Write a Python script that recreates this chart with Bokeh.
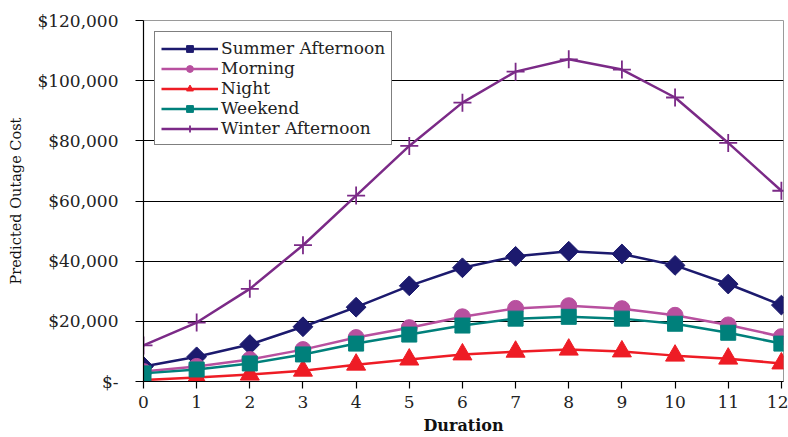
import numpy as np
from bokeh.plotting import figure
from bokeh.models import Range1d, FixedTicker
from bokeh.embed import file_html
from bokeh.resources import INLINE

durations = list(range(13))
summer_afternoon = [5000, 8200, 12300, 18200, 24700, 31800, 37800, 41600, 43300, 42400, 38600, 32400, 25400]
morning = [3300, 5000, 7300, 10600, 14600, 17900, 21500, 24300, 25200, 24200, 22000, 18800, 14900]
night = [500, 1300, 2300, 3600, 5600, 7300, 9000, 9900, 10600, 10000, 8600, 7600, 6000]
weekend = [2700, 4000, 6000, 9000, 12600, 15600, 18600, 20900, 21500, 20900, 19200, 16200, 12600]
winter_afternoon = [12000, 19600, 30800, 45300, 61800, 78300, 92700, 103000, 107100, 103700, 94400, 79300, 63400]

y_ticks = [0, 20000, 40000, 60000, 80000, 100000, 120000]
y_tick_labels = ["$-", "$20,000", "$40,000", "$60,000", "$80,000", "$100,000", "$120,000"]

FONT = "DejaVu Serif"

p = figure(width=788, height=437, output_backend="svg", toolbar_location=None,
           x_range=Range1d(0, 12.04), y_range=Range1d(0, 120000),
           min_border_left=143, min_border_right=5, min_border_top=20, min_border_bottom=54)
p.background_fill_color = "white"
p.border_fill_color = "white"
p.outline_line_color = "#9a9a9a"
p.outline_line_width = 1

# axes
p.xaxis.ticker = FixedTicker(ticks=durations)
p.yaxis.ticker = FixedTicker(ticks=y_ticks)
p.yaxis.major_label_overrides = {t: l for t, l in zip(y_ticks, y_tick_labels)}
for ax in (p.xaxis[0], p.yaxis[0]):
    ax.axis_line_color = "black"
    ax.axis_line_width = 1.2
    ax.major_tick_line_color = "black"
    ax.major_tick_line_width = 1.2
    ax.major_tick_in = 0
    ax.minor_tick_line_color = None
    ax.major_label_text_font = FONT
    ax.major_label_text_font_size = "17px"
    ax.major_label_text_color = "#222222"
    ax.axis_label_text_font = FONT
    ax.axis_label_text_color = "#111111"
p.yaxis.major_tick_out = 8
p.yaxis.major_label_standoff = 17
p.xaxis.major_tick_out = 7
p.xaxis.major_label_standoff = 7
p.xaxis.axis_label = "Duration"
p.xaxis.axis_label_text_font_style = "bold"
p.xaxis.axis_label_text_font_size = "16px"
p.xaxis.axis_label_standoff = 5
p.yaxis.axis_label = "Predicted Outage Cost"
p.yaxis.axis_label_text_font_style = "normal"
p.yaxis.axis_label_text_font_size = "14.5px"
p.yaxis.axis_label_standoff = 10

p.xgrid.visible = False
p.ygrid.ticker = FixedTicker(ticks=y_ticks[1:-1])
p.ygrid.grid_line_color = "black"
p.ygrid.grid_line_width = 1

series = [
    ("Summer Afternoon", summer_afternoon, "#1c1a6e", dict(marker="square", angle=np.pi / 4, size=14)),
    ("Morning", morning, "#b8509f", dict(marker="circle", size=16)),
    ("Night", night, "#ee1c25", dict(marker="triangle", size=19)),
    ("Weekend", weekend, "#00807b", dict(marker="square", size=15)),
    ("Winter Afternoon", winter_afternoon, "#7b2a87", dict(marker="cross", size=18, line_width=1.8)),
]

for name, vals, col, mk in series:
    p.line(durations, vals, line_color=col, line_width=2.5, legend_label=name)
    mk = dict(mk)
    lw = mk.pop("line_width", 1)
    p.scatter(durations, vals, fill_color=col, line_color=col, line_width=lw,
              legend_label=name, **mk)

leg = p.legend[0]
leg.location = "top_left"
leg.margin = 11
leg.padding = 6
leg.spacing = 0
leg.glyph_width = 57
leg.glyph_height = 17
leg.label_height = 17
leg.label_standoff = 3
leg.label_text_font = FONT
leg.label_text_font_size = "17px"
leg.label_text_line_height = 1.0
leg.label_text_color = "#222222"
leg.label_text_baseline = "middle"
leg.border_line_color = "black"
leg.border_line_width = 1.5
leg.background_fill_color = "white"
leg.background_fill_alpha = 1

open("out.html", "w").write(file_html(p, INLINE))
